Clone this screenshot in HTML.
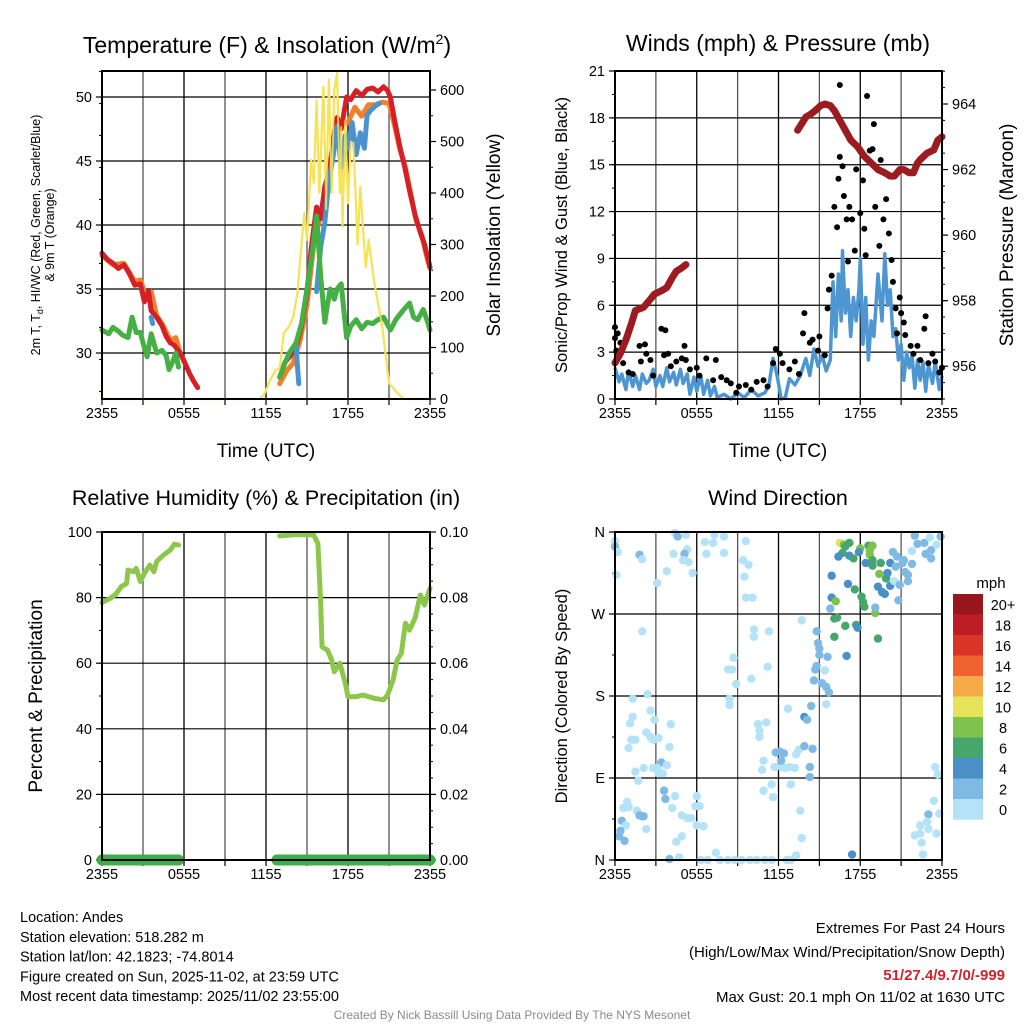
<!DOCTYPE html>
<html><head><meta charset="utf-8">
<style>
html,body{margin:0;padding:0;background:#fff;}
svg{display:block;font-family:"Liberation Sans",Arial,sans-serif;}
</style></head>
<body>
<svg id="chart" width="1024" height="1024" viewBox="0 0 1024 1024" xmlns="http://www.w3.org/2000/svg"></svg>
<script>
// ---------- DATA ----------
const tempRed = [[0,37.8],[0.4,37.3],[0.8,37.0],[1.2,36.6],[1.6,36.9],[2.0,36.2],[2.4,35.3],[2.8,35.4],[3.1,34.0],[3.4,34.8],[3.6,33.3],[4.0,32.8],[4.4,32.1],[4.7,31.3],[5.0,30.8],[5.3,30.6],[5.7,30.0],[6.0,29.4],[6.4,28.4],[6.7,27.8],[7.0,27.3],
 null,[13.0,28.1],[13.4,29.3],[13.8,29.8],[14.2,30.5],[14.6,32.1],[15.0,34.7],[15.3,38.1],[15.7,41.4],[16.0,40.5],[16.3,43.0],[16.7,44.5],[17.0,47.2],[17.2,48.4],[17.5,47.5],[17.9,50.0],[18.2,49.8],[18.6,50.5],[19.0,50.1],[19.4,50.6],[19.8,50.7],[20.2,50.4],[20.6,50.8],[20.9,50.5],[21.1,50.0],[21.4,48.2],[21.8,46.1],[22.1,44.8],[22.5,42.7],[22.9,40.8],[23.3,39.4],[23.6,38.5],[24.0,36.7]];
const tempOrange = [[0,37.6],[0.8,36.9],[1.6,37.0],[2.0,36.3],[2.4,35.6],[2.8,35.7],[3.3,34.2],[3.6,34.8],[4.0,32.9],[4.4,32.3],[5.0,31.0],[5.4,31.2],[5.7,30.1],[6.0,29.3],
 null,[13.0,27.6],[13.5,28.6],[14.0,29.2],[14.5,31.0],[15.0,33.8],[15.5,38.5],[16.0,40.8],[16.5,43.8],[17.0,46.8],[17.5,47.9],[18.0,48.0],[18.5,49.2],[19.0,48.5],[19.5,49.4],[20.0,49.4],[20.5,49.6],[21.0,49.5],[21.4,47.8],[21.8,45.9],[22.2,44.5],[22.6,42.4],[23.0,40.3],[23.4,39.2],[23.7,37.8],[24.0,36.6]];
const tempBlue = [[3.6,32.8],[3.7,32.3],null,[14.2,30.6],[14.3,29.0],[14.4,27.6],null,[15.7,34.8],[16.0,38.3],[16.3,40.2],[16.6,43.5],[16.9,45.3],[17.2,47.7],[17.5,44.5],[17.8,47.0],[18.0,46.0],[18.3,48.0],[18.6,45.5],[18.9,47.2],[19.2,46.0],[19.4,48.6],[19.7,49.0],[20.0,49.3],[20.3,49.5]];
const tempGreen = [[0,31.8],[0.5,31.5],[0.8,32.0],[1.2,31.7],[1.5,31.4],[1.9,31.2],[2.2,32.8],[2.5,31.6],[2.8,31.6],[3.0,30.8],[3.3,29.7],[3.6,31.5],[4.0,30.0],[4.4,30.2],[4.7,29.8],[4.9,28.7],[5.2,29.4],[5.4,30.0],[5.6,28.9],
 null,[13.0,28.1],[13.3,29.0],[13.7,30.0],[14.2,30.8],[14.6,32.3],[15.0,35.0],[15.4,38.0],[15.7,40.7],[16.0,36.0],[16.3,32.4],[16.5,33.8],[16.7,35.0],[17.0,34.2],[17.2,35.0],[17.5,35.4],[17.9,31.2],[18.2,32.1],[18.6,32.6],[19.0,31.9],[19.4,32.4],[19.8,32.3],[20.2,32.6],[20.6,32.8],[21.1,31.8],[21.5,32.6],[22.0,33.3],[22.5,33.9],[22.8,32.8],[23.1,32.6],[23.5,33.4],[23.8,32.5],[24.0,31.8]];
const solar = [[0,0],[5.5,0],null,[6.9,0],[11.5,0],[11.9,10],[12.3,37],[12.7,56],[13.0,60],[13.3,128],[13.7,141],[14.0,160],[14.3,206],[14.6,300],[14.8,361],[15.0,309],[15.3,464],[15.5,420],[15.7,580],[15.9,400],[16.2,606],[16.4,368],[16.6,620],[16.8,400],[17.0,600],[17.2,633],[17.4,400],[17.5,528],[17.6,335],[17.8,541],[18.0,380],[18.2,500],[18.4,497],[18.7,300],[18.9,412],[19.1,330],[19.3,256],[19.5,309],[19.9,230],[20.5,141],[21.0,31],[21.6,12],[22.1,0],[24,0]];
const tempTicks = [30,35,40,45,50];
const solarTicks = [0,100,200,300,400,500,600];
const timeLabels = ["2355","0555","1155","1755","2355"];

const windSpeed = [[0,2.0],[0.3,1.1],[0.5,1.6],[0.8,0.6],[1.0,1.8],[1.3,0.8],[1.5,1.5],[1.8,0.6],[2.0,1.6],[2.3,1.0],[2.5,1.2],[2.8,1.9],[3.0,0.8],[3.3,1.5],[3.5,0.8],[3.8,2.0],[4.0,1.1],[4.3,1.7],[4.5,0.9],[4.8,1.9],[5.0,1.0],[5.3,1.6],[5.5,0.3],[5.8,1.4],[6.0,0.5],[6.3,1.5],[6.5,0.3],[6.8,1.2],[7.0,0.2],[7.3,0.8],[7.5,0.1],[8.0,0.3],[8.5,0.0],[9.0,0.4],[9.5,0.1],[10.0,0.6],[10.5,0.2],[11.0,0.4],[11.3,0.9],[11.6,2.6],[11.9,1.5],[12.2,0.0],[12.5,0.1],[12.8,1.3],[13.2,0.9],[13.6,1.5],[14.0,2.6],[14.3,1.5],[14.6,3.2],[14.9,2.1],[15.2,2.8],[15.5,1.8],[15.8,2.5],[16.0,7.5],[16.2,4.0],[16.4,8.0],[16.6,5.0],[16.7,9.5],[16.9,5.5],[17.1,7.0],[17.3,4.0],[17.5,6.5],[17.7,5.0],[17.9,7.0],[18.0,9.0],[18.2,3.5],[18.4,6.5],[18.6,2.5],[18.8,5.0],[19.0,4.0],[19.3,8.0],[19.6,5.0],[19.8,9.3],[20.0,6.0],[20.2,7.0],[20.4,4.0],[20.6,4.5],[20.8,2.5],[21.0,3.5],[21.2,1.2],[21.4,3.0],[21.6,2.0],[21.8,2.8],[22.0,0.7],[22.2,2.5],[22.4,1.2],[22.6,2.4],[22.8,0.5],[23.0,2.2],[23.3,1.0],[23.5,2.4],[23.8,0.6],[24.0,1.5]];
const windGust = [[0,4.6],[0,3.9],[0.2,4.2],[0.1,3.1],[0.4,3.6],[0.6,2.3],[1.0,1.7],[1.3,1.6],[1.8,3.4],[1.9,2.4],[2.2,3.5],[2.3,2.9],[2.6,2.5],[2.8,1.5],[3.4,4.5],[3.7,4.4],[3.6,2.8],[3.9,2.9],[4.1,2.1],[4.5,2.4],[4.9,2.6],[5.1,3.4],[5.2,2.5],[5.5,1.9],[6.0,2.0],[6.2,1.5],[6.7,2.6],[7.2,1.2],[7.4,2.5],[7.8,1.4],[8.2,1.2],[8.5,1.0],[8.9,0.4],[9.1,0.8],[9.6,0.9],[10.0,0.6],[10.4,1.1],[10.9,1.2],[11.2,0.8],[11.6,2.3],[11.8,3.2],[12.1,2.9],[12.3,2.3],[12.8,1.9],[13.2,2.4],[13.5,1.6],[13.8,4.2],[13.9,5.5],[14.3,3.6],[14.5,3.8],[14.9,3.1],[15.0,4.0],[15.4,2.8],[15.6,5.8],[15.7,7.0],[15.9,7.9],[16.1,12.3],[16.3,11.0],[16.4,14.1],[16.5,15.5],[16.7,14.9],[16.5,20.1],[16.8,13.0],[17.0,11.5],[17.1,8.8],[17.2,12.3],[17.4,11.5],[17.6,9.5],[17.7,14.7],[18.0,11.9],[18.2,14.0],[18.3,10.9],[18.4,9.2],[18.5,19.4],[18.7,15.9],[18.9,16.0],[19.0,17.6],[19.1,12.3],[19.4,9.8],[19.5,15.3],[19.7,11.5],[19.9,12.8],[20.1,10.6],[20.3,8.9],[20.4,7.5],[20.6,5.8],[20.9,6.5],[21.0,5.5],[20.7,4.2],[21.2,4.9],[21.3,4.1],[21.7,3.4],[21.9,2.9],[22.2,3.4],[22.4,2.5],[22.8,5.3],[22.7,4.5],[23.0,2.3],[23.3,2.9],[23.5,2.4],[23.8,1.7],[24.0,2.0]];
const pressure = [[0,956.1],[0.4,956.4],[0.8,956.8],[1.2,957.3],[1.5,957.7],[2.1,957.8],[2.5,958.0],[2.9,958.2],[3.4,958.3],[3.8,958.4],[4.2,958.7],[4.5,958.9],[4.9,959.0],[5.2,959.1],
 null,[13.4,963.2],[13.7,963.4],[14.0,963.6],[14.4,963.7],[14.7,963.8],[15.1,963.95],[15.4,964.0],[15.8,963.95],[16.1,963.8],[16.5,963.5],[16.9,963.2],[17.3,962.9],[17.8,962.7],[18.3,962.4],[18.8,962.2],[19.3,962.0],[19.8,961.9],[20.2,961.8],[20.5,961.8],[20.9,962.0],[21.2,962.0],[21.6,961.9],[21.9,961.9],[22.2,962.2],[22.4,962.3],[22.9,962.5],[23.4,962.6],[23.7,962.9],[24.0,963.0]];
const windTicks = [0,3,6,9,12,15,18,21];
const pressTicks = [956,958,960,962,964];

const rh = [[0,78.5],[0.6,79.8],[1.0,81],[1.4,83.3],[1.8,84.3],[1.9,88.4],[2.3,87.9],[2.5,88.9],[2.8,84.9],[3.1,87.4],[3.5,89.9],[3.8,87.9],[4.0,91],[4.5,93],[5.0,94.5],[5.3,96.3],[5.6,96],
 null,[13.0,98.8],[14.2,99.2],[15.5,99.1],[15.8,96.5],[16.0,78.3],[16.1,65],[16.5,64],[16.8,61],[17.0,57.4],[17.4,60],[17.8,53.9],[18.0,49.8],[18.6,49.8],[19.1,50.3],[19.9,49.3],[20.6,48.8],[20.9,50.3],[21.3,54.9],[21.6,61],[21.9,63],[22.2,72.2],[22.5,70.1],[22.9,73.7],[23.3,80.8],[23.6,77.7],[24.0,82.8]];
const precip = [[0,0],[5.6,0],null,[12.8,0],[24,0]];
const rhTicks = [0,20,40,60,80,100];
const precipTicks = ["0.00","0.02","0.04","0.06","0.08","0.10"];

const dirPts = [[0,350,1],[0,344,3],[0.2,338,1],[0.1,313,1],[1.8,335,3],[2.0,330,1],[2.0,251,1],[1.3,177,1],[2.4,182,1],[2.6,164,1],[1.3,157,1],[1.1,150,1],[2.9,154,1],[2.3,140,1],[1.2,132,1],[1.5,132,1],[2.6,135,1],[2.8,132,1],[3.2,134,1],[1.0,123,1],[4.0,124,1],[4.1,149,1],[3.4,107,3],[3.1,101,1],[3.8,104,1],[3.2,95,1],[3.5,95,1],[1.5,97,1],[2.1,101,1],[2.8,101,1],[1.7,87,1],[3.6,76,3],[3.7,67,3],[4.4,70,1],[0.9,64,1],[0.6,57,1],[1.0,58,1],[1.6,54,1],[1.8,49,3],[2.0,48,3],[2.1,48,3],[2.3,34,1],[0.5,43,3],[0.8,38,1],[0.4,32,3],[0.3,26,3],[0.7,21,3],[4.2,57,1],[4.9,49,1],[5.3,46,1],[5.6,46,1],[6.0,70,1],[5.9,59,1],[6.2,59,1],[6.0,38,1],[6.5,37,1],[4.9,26,1],[4.5,20,1],[4.0,1,3],[4.7,3,1],[6.3,0,1],[6.8,0,1],[7.4,8,1],[7.7,0,1],[8.3,0,1],[8.8,0,1],[9.3,0,1],[9.9,0,1],[10.4,0,1],[11.0,0,1],[11.5,0,1],[12.6,0,1],[12.9,0,1],[13.3,5,1],[13.7,24,1],[13.6,54,1],[12.9,83,1],[11.6,69,1],[10.9,76,1],[11.5,83,1],[10.8,99,1],[10.9,109,1],[11.7,102,1],[12.2,102,1],[12.5,101,1],[12.8,102,1],[13.2,101,1],[11.8,118,3],[12.1,119,3],[12.4,117,3],[12.2,109,3],[13.3,116,1],[13.5,121,1],[13.9,125,3],[14.5,122,3],[14.3,102,3],[14.3,91,3],[12.7,166,1],[13.9,157,5],[14.1,154,3],[14.4,169,3],[10.6,135,1],[10.5,149,1],[11.1,151,1],[10.6,142,1],[8.4,177,1],[8.4,170,1],[8.9,193,1],[8.3,209,1],[8.6,209,1],[8.7,222,1],[10.0,199,1],[11.2,212,1],[11.3,251,1],[10.2,245,1],[10.2,253,1],[13.7,263,1],[9.6,288,1],[10.1,288,1],[9.5,311,1],[9.8,324,1],[9.4,329,1],[9.6,350,1],[8.0,337,1],[8.0,355,1],[7.2,348,1],[7.3,357,1],[6.6,349,1],[6.7,336,1],[5.7,315,1],[5.3,341,1],[5.1,336,3],[5.0,329,1],[5.4,327,1],[4.3,336,1],[3.8,317,1],[3.1,304,1],[4.4,359,1],[4.6,355,3],[5.2,357,1],
 [14.8,251,3],[14.9,238,3],[15.0,232,3],[15.0,225,3],[15.6,223,3],[14.8,213,3],[14.7,209,3],[15.4,208,1],[14.6,197,3],[15.2,194,3],[15.5,190,3],[15.7,184,3],[15.5,171,1],[17.0,224,5],[15.8,276,3],[15.9,288,5],[16.2,284,9],[16.1,265,7],[16.3,266,7],[16.1,245,7],[16.9,257,7],[17.7,258,7],[17.8,255,5],[19.3,243,7],[19.1,271,9],[19.1,277,3],[15.9,312,5],[17.1,303,5],[17.6,297,7],[18.1,289,7],[18.3,278,7],[18.2,283,7],[16.5,348,11],[16.8,346,9],[17.2,348,7],[16.9,344,7],[16.7,337,7],[16.4,333,5],[17.2,334,5],[17.5,331,7],[18.0,342,9],[17.9,338,5],[18.6,345,7],[18.9,345,9],[18.7,340,9],[18.7,335,9],[18.9,329,7],[18.4,326,5],[18.9,323,7],[19.5,326,7],[19.4,314,9],[19.9,309,7],[20.0,315,5],[19.3,300,5],[19.6,294,5],[19.8,292,5],[20.2,301,5],[20.2,326,5],[20.4,338,3],[20.7,333,3],[20.6,322,3],[20.5,306,1],[20.8,285,3],[20.9,302,3],[21.1,326,3],[21.2,329,3],[21.3,316,3],[21.5,313,3],[21.5,306,3],[21.8,325,3],[21.8,339,1],[22.2,347,3],[22.7,348,3],[22.8,336,3],[23.2,331,3],[23.2,340,3],[23.6,346,1],[23.9,355,3],[23.1,354,1],[22.0,356,3],[23.5,102,1],[23.7,94,1],[23.4,65,1],[23.0,50,3],[23.8,51,1],[22.9,42,1],[22.4,38,1],[23.0,34,1],[23.6,29,1],[22.4,29,1],[22.0,27,1],[22.5,19,1],[22.6,6,1],[17.4,6,5]];
const dirLabels = ["N","E","S","W","N"];
const speedClasses = ["0","2","4","6","8","10","12","14","16","18","20+"];
const speedColors = ["#b4e3f8","#7fbae4","#4a8fc8","#47a66c","#7dc24b","#e6e25a","#f5aa48","#ef6330","#da3428","#be1d25","#97171c"];

// ---------- DRAW ----------
const svg = document.getElementById('chart');
const NS = "http://www.w3.org/2000/svg";
function mk(tag, attrs, parent){ const e=document.createElementNS(NS,tag); for(const k in attrs) e.setAttribute(k,attrs[k]); (parent||svg).appendChild(e); return e; }
function txt(s, x, y, attrs, parent){ const e=mk('text',Object.assign({x:x,y:y},attrs||{}),parent); e.textContent=s; return e; }
function panel(X0,X1,Y0,Y1){ return { xs:h=>X0+(X1-X0)*h/24, X0,X1,Y0,Y1 }; }
function lin(d0,d1,p0,p1){ return v=>p0+(v-d0)*(p1-p0)/(d1-d0); }
function pathOf(data, xs, ys){
  let d="", pen=false;
  for(const p of data){ if(p===null){pen=false;continue;} d+=(pen?"L":"M")+xs(p[0]).toFixed(1)+" "+ys(p[1]).toFixed(1); pen=true; }
  return d;
}
function frame(P, name){
  const g=mk('g',{});  
  for(let i=1;i<8;i++){ const x=P.xs(i*3); mk('line',{x1:x,x2:x,y1:P.Y0,y2:P.Y1,stroke:i%2? '#555':'#000','stroke-width':1.3},g); }
  for(let i=0;i<=8;i++){ const x=P.xs(i*3); mk('line',{x1:x,x2:x,y1:P.Y1,y2:P.Y1+6,stroke:'#000','stroke-width':1.2},g); }
  timeLabels.forEach((l,i)=>{ const t=txt(l,P.xs(i*6),P.Y1+19,{'font-size':14.5,'text-anchor':'middle'},g);
      });
  return g;
}
function border(P,name){
  const r=mk('rect',{x:P.X0,y:P.Y0,width:P.X1-P.X0,height:P.Y1-P.Y0,fill:'none',stroke:'#000','stroke-width':2});
   
}
function hgrid(P, ticks, ys, labels, side, name, minor){
  const g=mk('g',{});  
  ticks.forEach((v,i)=>{ const y=ys(v);
    if(side==='left'){ if(y>P.Y0+1 && y<P.Y1-1) mk('line',{x1:P.X0,x2:P.X1,y1:y,y2:y,stroke:'#000','stroke-width':1.2},g);
      mk('line',{x1:P.X0-6,x2:P.X0,y1:y,y2:y,stroke:'#000','stroke-width':1.2},g);
      txt(labels[i],P.X0-10,y+5,{'font-size':14.5,'text-anchor':'end'},g); }
    else { mk('line',{x1:P.X1,x2:P.X1+6,y1:y,y2:y,stroke:'#000','stroke-width':1.2},g);
      txt(labels[i],P.X1+10,y+5,{'font-size':14.5,'text-anchor':'start'},g); }
  });
  if(minor){ minor.forEach(v=>{ const y=ys(v); if(y<P.Y0-0.5||y>P.Y1+0.5) return;
    if(side==='left') mk('line',{x1:P.X0-3,x2:P.X0,y1:y,y2:y,stroke:'#000','stroke-width':1},g);
    else mk('line',{x1:P.X1,x2:P.X1+3,y1:y,y2:y,stroke:'#000','stroke-width':1},g); }); }
}
function range(a,b,s){ const r=[]; for(let v=a; v<=b+1e-9; v+=s) r.push(+v.toFixed(4)); return r; }

// Panel 1
const P1=panel(102,430,71,399);
const yT=lin(30,50,353,97), yS=lin(0,600,399,90);
frame(P1,'temperature');
hgrid(P1,tempTicks,yT,tempTicks.map(String),'left','temperature-y-axis',range(27,52,2.5));
hgrid(P1,solarTicks,yS,solarTicks.map(String),'right','solar-y-axis',range(0,650,50));
const gT=mk('g',{});  
const l1=mk('path',{d:pathOf(solar,P1.xs,yS),fill:'none',stroke:'#f5e04a','stroke-width':2.2,'stroke-linejoin':'round'},gT);  
const l2=mk('path',{d:pathOf(tempOrange,P1.xs,yT),fill:'none',stroke:'#f47f2a','stroke-width':5,'stroke-linejoin':'round','stroke-linecap':'round'},gT);  
const l3=mk('path',{d:pathOf(tempRed,P1.xs,yT),fill:'none',stroke:'#d42026','stroke-width':5,'stroke-linejoin':'round','stroke-linecap':'round'},gT);  
const l4=mk('path',{d:pathOf(tempBlue,P1.xs,yT),fill:'none',stroke:'#4b93cf','stroke-width':5,'stroke-linejoin':'round','stroke-linecap':'round'},gT);  
const l5=mk('path',{d:pathOf(tempGreen,P1.xs,yT),fill:'none',stroke:'#45b044','stroke-width':5,'stroke-linejoin':'round','stroke-linecap':'round'},gT);  
const l1b=mk('path',{d:pathOf(solar,P1.xs,yS),fill:'none',stroke:'#f7e35a','stroke-width':1.8,'stroke-linejoin':'round',opacity:0.85},gT);  
border(P1,'temperature');

// Panel 2
const P2=panel(615,942,71,399);
const yW=lin(0,21,399,71), yP=lin(955,964,399,104);
frame(P2,'winds');
hgrid(P2,windTicks,yW,windTicks.map(String),'left','wind-y-axis',range(0,21,1.5));
hgrid(P2,pressTicks,yP,pressTicks.map(String),'right','pressure-y-axis',range(955,965,0.5));
const gW=mk('g',{});  
const w1=mk('path',{d:pathOf(windSpeed,P2.xs,yW),fill:'none',stroke:'#4e96d2','stroke-width':3.5,'stroke-linejoin':'round'},gW);  
windGust.forEach(p=>{ const c=mk('circle',{cx:P2.xs(p[0]),cy:yW(p[1]),r:3,fill:'#000'},gW);
    });
const w2=mk('path',{d:pathOf(pressure,P2.xs,yP),fill:'none',stroke:'#9b1b1e','stroke-width':7,'stroke-linejoin':'round','stroke-linecap':'round'},gW);  
border(P2,'winds');

// Panel 3
const P3=panel(102,430,532,860);
const yR=lin(0,100,860,532);
frame(P3,'humidity');
hgrid(P3,rhTicks,yR,rhTicks.map(String),'left','rh-y-axis',range(0,100,10));
hgrid(P3,rhTicks,yR,precipTicks,'right','precip-y-axis',range(0,100,5));
const gR=mk('g',{});  
const r1=mk('path',{d:pathOf(rh,P3.xs,yR),fill:'none',stroke:'#8cc74c','stroke-width':5,'stroke-linejoin':'round','stroke-linecap':'round'},gR);  
const yPr=v=>yR(v*1000);
const r2=mk('path',{d:pathOf(precip,P3.xs,yPr),fill:'none',stroke:'#3eae48','stroke-width':11,'stroke-linecap':'round'},gR);  
border(P3,'humidity');

// Panel 4
const P4=panel(615,942,532,860);
const yD=lin(0,360,860,532);
frame(P4,'wind-direction');
hgrid(P4,[0,90,180,270,360],yD,dirLabels,'left','direction-y-axis',range(0,360,45));
const gD=mk('g',{});  
function colorFor(s){ const i=Math.min(10,Math.floor(s/2)); return speedColors[i]; }
dirPts.forEach(p=>{ const c=mk('circle',{cx:P4.xs(p[0]),cy:yD(p[1]),r:4.2,fill:colorFor(p[2])},gD);
    });
border(P4,'wind-direction');
const gC=mk('g',{});  
txt('mph',991,588,{'font-size':15,'text-anchor':'middle'},gC);
speedClasses.forEach((l,i)=>{ const k=10-i; const y=594+i*20.5;
  const r=mk('rect',{x:953,y:y,width:30,height:20.7,fill:speedColors[k]},gC);
   
  txt(speedClasses[k],1003,y+16,{'font-size':14.5,'text-anchor':'middle'},gC); });

// Titles
function title(s,x,y,size,name,rot,extra){
  const a=Object.assign({'font-size':size,'text-anchor':'middle'},extra||{});
  if(rot) a.transform='rotate(-90 '+x+' '+y+')';
  const t=txt(s,x,y,a);   return t;
}
const t1=title('',267,53,23,'temperature-title');
t1.innerHTML='Temperature (F) &amp; Insolation (W/m<tspan font-size="14" dy="-9">2</tspan><tspan dy="9">)</tspan>';
title('Winds (mph) & Pressure (mb)',778,51,23,'winds-title');
title('Relative Humidity (%) & Precipitation (in)',266,505,21.5,'humidity-title');
title('Wind Direction',778,505,21.5,'wind-direction-title');
title('Time (UTC)',266,457,19,'temperature-x-title');
title('Time (UTC)',778,457,19,'winds-x-title');
const ya=title('',40,235,12.5,'temperature-y-title',true);
ya.innerHTML='2m T, T<tspan font-size="9" dy="3">d</tspan><tspan dy="-3">, HI/WC (Red, Green, Scarlet/Blue)</tspan>';
title('& 9m T (Orange)',54,235,12.5,'temperature-y-title-line2',true);
title('Solar Insolation (Yellow)',500,235,19,'solar-y-title',true);
title('Sonic/Prop Wind & Gust (Blue, Black)',567,235,16.5,'wind-y-title',true);
title('Station Pressure (Maroon)',1013,235,19,'pressure-y-title',true);
title('Percent & Precipitation',42,696,19,'rh-y-title',true);
title('Direction (Colored By Speed)',567,696,16.5,'direction-y-title',true);

// Footer
const info=["Location: Andes","Station elevation: 518.282 m","Station lat/lon: 42.1823; -74.8014","Figure created on Sun, 2025-11-02, at 23:59 UTC","Most recent data timestamp: 2025/11/02 23:55:00"];
info.forEach((s,i)=>{ const t=txt(s,20,922+i*19.8,{'font-size':14.5});   });
const ex=[["Extremes For Past 24 Hours",933,'#000','normal'],["(High/Low/Max Wind/Precipitation/Snow Depth)",957,'#000','normal'],["51/27.4/9.7/0/-999",980,'#d0222a','bold'],["Max Gust: 20.1 mph On 11/02 at 1630 UTC",1002,'#000','normal']];
ex.forEach(e=>{ const t=txt(e[0],1005,e[1],{'font-size':15,'text-anchor':'end',fill:e[2],'font-weight':e[3]});   });
const cr=txt('Created By Nick Bassill Using Data Provided By The NYS Mesonet',512,1019,{'font-size':12,'text-anchor':'middle',fill:'#8a8a8a'});
 
</script>
</body></html>
